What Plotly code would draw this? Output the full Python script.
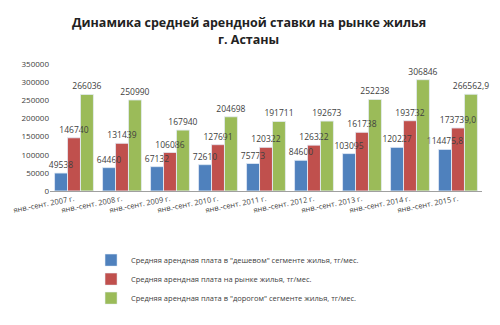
import plotly.graph_objects as go

categories = ["янв.-сент. 2007 г.", "янв.-сент. 2008 г.", "янв.-сент. 2009 г.",
              "янв.-сент. 2010 г.", "янв.-сент. 2011 г.", "янв.-сент. 2012 г.",
              "янв.-сент. 2013 г.", "янв.-сент. 2014 г.", "янв.-сент. 2015 г."]
cheap = [49538, 64460, 67132, 72610, 75773, 84600, 103095, 120227, 114475.8]
market = [146740, 131439, 106086, 127691, 120322, 126322, 161738, 193732, 173739.0]
expensive = [266036, 250990, 167940, 204698, 191711, 192673, 252238, 306846, 266562.9]

cheap_txt = ["49538", "64460", "67132", "72610", "75773", "84600", "103095", "120227", "114475,8"]
market_txt = ["146740", "131439", "106086", "127691", "120322", "126322", "161738", "193732", "173739,0"]
exp_txt = ["266036", "250990", "167940", "204698", "191711", "192673", "252238", "306846", "266562,9"]

names = ['Средняя арендная плата в "дешевом" сегменте жилья, тг/мес.',
         'Средняя арендная плата на рынке жилья, тг/мес.',
         'Средняя арендная плата в "дорогом" сегменте жилья, тг/мес.']
colors = ["#4F81BD", "#C0504D", "#9BBB59"]

bar_w = 0.27
offsets = [-0.405, -0.135, 0.135]

fig = go.Figure()
series = list(zip([cheap, market, expensive], [cheap_txt, market_txt, exp_txt], names, colors, offsets))
for vals, txt, name, col, off in series:
    fig.add_trace(go.Bar(x=categories, y=vals, name=name, marker_color=col,
                         width=bar_w, offset=off))
# labels drawn on top of all bars
for vals, txt, name, col, off in series:
    fig.add_trace(go.Bar(x=categories, y=vals, name=name, showlegend=False,
                         marker=dict(color="rgba(0,0,0,0)"), width=bar_w, offset=off,
                         text=txt, textposition="outside", cliponaxis=False,
                         constraintext="none", textangle=0, hoverinfo="skip",
                         textfont=dict(size=8.5, color="#404040")))

fig.add_annotation(text="<b>Динамика средней арендной ставки на рынке жилья</b>",
                   xref="paper", yref="paper", x=0.46, y=1.326, xanchor="center", yanchor="middle",
                   showarrow=False, font=dict(size=12.5, color="#222222"))
fig.add_annotation(text="<b>г. Астаны</b>",
                   xref="paper", yref="paper", x=0.46, y=1.191, xanchor="center", yanchor="middle",
                   showarrow=False, font=dict(size=12.5, color="#222222"))

fig.update_layout(
    width=500, height=325,
    margin=dict(l=50, r=18, t=64, b=120),
    paper_bgcolor="white", plot_bgcolor="white",
    barmode="overlay",
    font=dict(family="Open Sans, Arial, sans-serif", color="#404040"),
    showlegend=True,
    legend=dict(orientation="v", x=0.095, xanchor="left", y=-0.43, yanchor="top",
                font=dict(size=7.5, color="#404040"), itemwidth=30,
                bgcolor="rgba(0,0,0,0)"),
    xaxis=dict(tickangle=-11, tickfont=dict(size=7.5, color="#404040"),
               showline=True, linecolor="#A0A0A0", linewidth=1, ticks=""),
    yaxis=dict(range=[0, 350000], dtick=50000, showgrid=False, zeroline=False,
               tickfont=dict(size=8, color="#404040"), tickformat="d"),
)
fig.write_html("out.html")
